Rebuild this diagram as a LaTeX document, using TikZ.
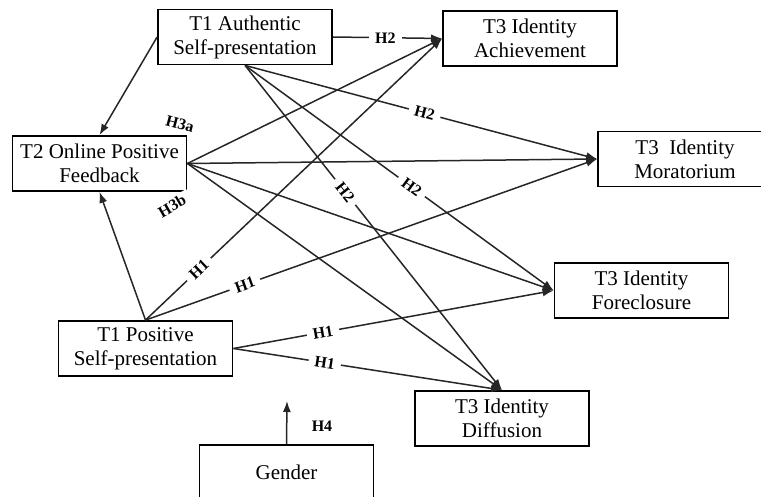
\documentclass[tikz,border=0pt]{standalone}
\usepackage{fontspec}
\setmainfont{Liberation Serif}
\usetikzlibrary{arrows.meta}
\tikzset{
  varbox/.style={draw, line width=0.9pt, align=center, minimum width=87pt, minimum height=27.5pt, inner sep=0pt, font=\fontsize{10.5}{12}\selectfont},
  patharrow/.style={-{Latex[length=5.5pt,width=4pt]}, line width=0.75pt, draw=black!85},
  hyplabel/.style={font=\fontsize{8}{9}\selectfont\bfseries, fill=white, inner xsep=3pt, inner ysep=1pt}
}
\begin{document}
\begin{tikzpicture}[x=0.5pt, y=-0.5pt]
\useasboundingbox (0,0) rectangle (761,497);
\clip (0,0) rectangle (761,497);
% variables
\node[varbox] (auth) at (245,37) {T1 Authentic\\Self-presentation};
\node[varbox] (ach) at (530,38.5) {T3 Identity\\Achievement};
\node[varbox] (feed) at (99.5,163.5) {T2 Online Positive\\Feedback};
\node[varbox] (mor) at (685,159) {T3\ \ Identity\\Moratorium};
\node[varbox] (fore) at (641.5,290.5) {T3 Identity\\Foreclosure};
\node[varbox] (pos) at (145.5,348.5) {T1 Positive\\Self-presentation};
\node[varbox] (diff) at (502,418.5) {T3 Identity\\Diffusion};
\node[varbox] (gender) at (286.5,472.5) {Gender};
\coordinate (gtip) at (287,401);
% paths from T1 authentic
\draw[patharrow] (auth.east) -- node[hyplabel, pos=0.48] {H2} (ach.west);
\draw[patharrow] (auth.west) -- (feed.north);
\draw[patharrow] (auth.south) -- node[hyplabel, sloped, pos=0.51] {H2} (mor.west);
\draw[patharrow] (auth.south) -- node[hyplabel, sloped, pos=0.54] {H2} (fore.west);
\draw[patharrow] (auth.south) -- node[hyplabel, sloped, pos=0.39] {H2} (diff.north);
% paths from T2 feedback
\draw[patharrow] (feed.east) -- (ach.west);
\draw[patharrow] (feed.east) -- (mor.west);
\draw[patharrow] (feed.east) -- (fore.west);
\draw[patharrow] (feed.east) -- (diff.north);
% paths from T1 positive
\draw[patharrow] (pos.north) -- (feed.south);
\draw[patharrow] (pos.north) -- node[hyplabel, sloped, pos=0.18] {H1} (ach.west);
\draw[patharrow] (pos.north) -- node[hyplabel, sloped, pos=0.22] {H1} (mor.west);
\draw[patharrow] (pos.east) -- node[hyplabel, sloped, pos=0.28] {H1} (fore.west);
\draw[patharrow] (pos.east) -- node[hyplabel, sloped, pos=0.34] {H1} (diff.north);
% gender
\draw[patharrow] (gender.north) -- (gtip);
\node[hyplabel] (h4) at (322,426) {H4};
\node[hyplabel, rotate=-15] (h3a) at (180,124) {H3a};
\node[hyplabel, rotate=30] (h3b) at (172,206) {H3b};
\end{tikzpicture}
\end{document}
